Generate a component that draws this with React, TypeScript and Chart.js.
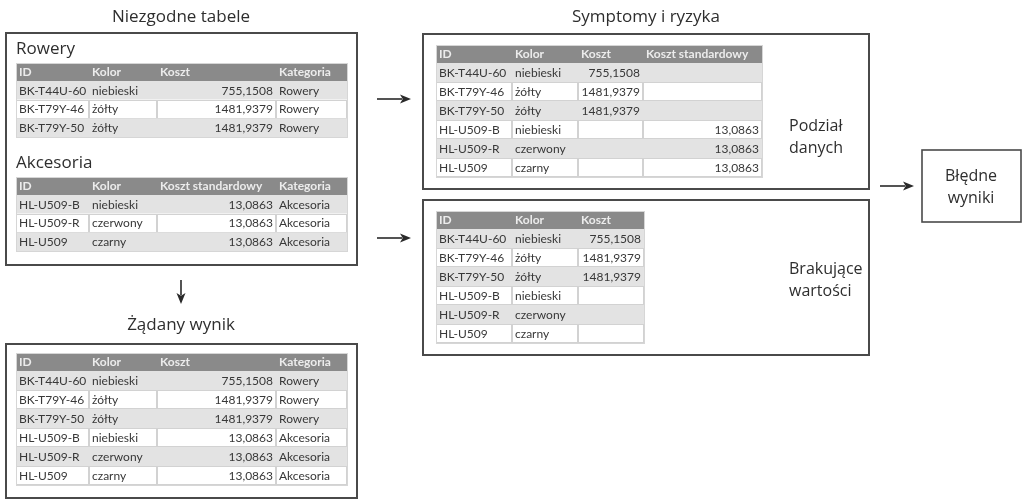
import React, { useEffect, useRef } from "react";
import { Chart, registerables } from "chart.js";

Chart.register(...registerables);

// ---------- data ----------
const titleLeft = "Niezgodne tabele";
const titleRight = "Symptomy i ryzyka";
const titleResult = "Żądany wynik";
const labelBikes = "Rowery";
const labelAccessories = "Akcesoria";
const labelSplit = ["Podział", "danych"];
const labelMissing = ["Brakujące", "wartości"];
const labelWrong = ["Błędne", "wyniki"];

const colsBikes = ["ID", "Kolor", "Koszt", "Kategoria"];
const rowsBikes = [
  ["BK-T44U-60", "niebieski", "755,1508", "Rowery"],
  ["BK-T79Y-46", "żółty", "1481,9379", "Rowery"],
  ["BK-T79Y-50", "żółty", "1481,9379", "Rowery"],
];
const colsAccessories = ["ID", "Kolor", "Koszt standardowy", "Kategoria"];
const rowsAccessories = [
  ["HL-U509-B", "niebieski", "13,0863", "Akcesoria"],
  ["HL-U509-R", "czerwony", "13,0863", "Akcesoria"],
  ["HL-U509", "czarny", "13,0863", "Akcesoria"],
];
const colsResult = ["ID", "Kolor", "Koszt", "Kategoria"];
const rowsResult = [
  ["BK-T44U-60", "niebieski", "755,1508", "Rowery"],
  ["BK-T79Y-46", "żółty", "1481,9379", "Rowery"],
  ["BK-T79Y-50", "żółty", "1481,9379", "Rowery"],
  ["HL-U509-B", "niebieski", "13,0863", "Akcesoria"],
  ["HL-U509-R", "czerwony", "13,0863", "Akcesoria"],
  ["HL-U509", "czarny", "13,0863", "Akcesoria"],
];
const colsSplit = ["ID", "Kolor", "Koszt", "Koszt standardowy"];
const rowsSplit = [
  ["BK-T44U-60", "niebieski", "755,1508", ""],
  ["BK-T79Y-46", "żółty", "1481,9379", ""],
  ["BK-T79Y-50", "żółty", "1481,9379", ""],
  ["HL-U509-B", "niebieski", "", "13,0863"],
  ["HL-U509-R", "czerwony", "", "13,0863"],
  ["HL-U509", "czarny", "", "13,0863"],
];
const colsMissing = ["ID", "Kolor", "Koszt"];
const rowsMissing = [
  ["BK-T44U-60", "niebieski", "755,1508"],
  ["BK-T79Y-46", "żółty", "1481,9379"],
  ["BK-T79Y-50", "żółty", "1481,9379"],
  ["HL-U509-B", "niebieski", ""],
  ["HL-U509-R", "czerwony", ""],
  ["HL-U509", "czarny", ""],
];

// ---------- layout (diagram units = page pixels) ----------
const W = 1023;
const H = 499;

type Table = {
  colX: number[];
  y0: number;
  headH: number;
  rowH: number;
  cols: string[];
  rows: string[][];
  align: string[];
};

const tables: Table[] = [
  { colX: [16, 89, 157, 276, 347], y0: 63, headH: 18, rowH: 18.7, cols: colsBikes, rows: rowsBikes, align: ["l", "l", "r", "l"] },
  { colX: [16, 89, 157, 276, 347], y0: 177, headH: 18, rowH: 18.7, cols: colsAccessories, rows: rowsAccessories, align: ["l", "l", "r", "l"] },
  { colX: [16, 89, 157, 276, 347], y0: 353, headH: 18, rowH: 19, cols: colsResult, rows: rowsResult, align: ["l", "l", "r", "l"] },
  { colX: [436, 512, 578, 643, 762], y0: 45, headH: 18, rowH: 19, cols: colsSplit, rows: rowsSplit, align: ["l", "l", "r", "r"] },
  { colX: [436, 512, 578, 644], y0: 211, headH: 18, rowH: 19, cols: colsMissing, rows: rowsMissing, align: ["l", "l", "r"] },
];

const App: React.FC = () => {
  const ref = useRef<HTMLCanvasElement>(null);

  useEffect(() => {
    document.body.style.margin = "0";
    const canvas = ref.current;
    if (!canvas) return;

    const diagram = {
      id: "diagram",
      beforeDraw(chart: any) {
        const c = chart.ctx as CanvasRenderingContext2D;
        c.save();
        c.fillStyle = "#ffffff";
        c.fillRect(0, 0, chart.width, chart.height);
        c.restore();
      },
      afterDraw(chart: any) {
        const c = chart.ctx as CanvasRenderingContext2D;
        const sx = chart.scales.x;
        const sy = chart.scales.y;
        const X = (v: number) => sx.getPixelForValue(v);
        const Y = (v: number) => sy.getPixelForValue(v);

        const rect = (x1: number, y1: number, x2: number, y2: number, stroke: string, lw: number) => {
          c.save();
          c.strokeStyle = stroke;
          c.lineWidth = lw;
          c.strokeRect(X(x1), Y(y1), X(x2) - X(x1), Y(y2) - Y(y1));
          c.restore();
        };
        const text = (s: string, x: number, y: number, font: string, color: string, align: CanvasTextAlign) => {
          c.save();
          c.font = font;
          c.fillStyle = color;
          c.textAlign = align;
          c.textBaseline = "middle";
          c.fillText(s, X(x), Y(y));
          c.restore();
        };
        const arrow = (x1: number, y1: number, x2: number, y2: number) => {
          const ax1 = X(x1), ay1 = Y(y1), ax2 = X(x2), ay2 = Y(y2);
          const ang = Math.atan2(ay2 - ay1, ax2 - ax1);
          const hl = 11, hw = 4.5;
          c.save();
          c.strokeStyle = "#2a2a2a";
          c.fillStyle = "#2a2a2a";
          c.lineWidth = 1.6;
          c.beginPath();
          c.moveTo(ax1, ay1);
          c.lineTo(ax2 - Math.cos(ang) * hl * 0.8, ay2 - Math.sin(ang) * hl * 0.8);
          c.stroke();
          c.beginPath();
          c.moveTo(ax2, ay2);
          c.lineTo(ax2 - Math.cos(ang) * hl - Math.sin(ang) * hw, ay2 - Math.sin(ang) * hl + Math.cos(ang) * hw);
          c.lineTo(ax2 - Math.cos(ang) * hl * 0.75, ay2 - Math.sin(ang) * hl * 0.75);
          c.lineTo(ax2 - Math.cos(ang) * hl + Math.sin(ang) * hw, ay2 - Math.sin(ang) * hl - Math.cos(ang) * hw);
          c.closePath();
          c.fill();
          c.restore();
        };

        const cellFont = "12px Lato, 'Open Sans', sans-serif";
        const headFont = "bold 12px Lato, 'Open Sans', sans-serif";
        const drawTable = (t: Table) => {
          const xs = t.colX;
          const left = xs[0];
          const right = xs[xs.length - 1];
          // header
          c.save();
          c.fillStyle = "#8a8a8a";
          c.fillRect(X(left), Y(t.y0), X(right) - X(left), Y(t.y0 + t.headH) - Y(t.y0));
          c.restore();
          t.cols.forEach((h, i) => {
            text(h, xs[i] + 3, t.y0 + t.headH / 2 + 0.5, headFont, "#ececec", "left");
          });
          // rows
          t.rows.forEach((r, ri) => {
            const ya = t.y0 + t.headH + ri * t.rowH;
            const yb = ya + t.rowH;
            const gray = ri % 2 === 0;
            c.save();
            c.fillStyle = gray ? "#e3e3e3" : "#ffffff";
            c.fillRect(X(left), Y(ya), X(right) - X(left), Y(yb) - Y(ya));
            if (!gray) {
              c.strokeStyle = "#d2d2d2";
              c.lineWidth = 1;
              for (let i = 0; i < xs.length - 1; i++) {
                c.strokeRect(Math.round(X(xs[i])) + 0.5, Math.round(Y(ya)) + 0.5, Math.round(X(xs[i + 1]) - X(xs[i])) - 1, Math.round(Y(yb) - Y(ya)) - 1);
              }
            } else {
              c.strokeStyle = "#ffffff";
              c.lineWidth = 1;
              c.beginPath();
              c.moveTo(X(left), Math.round(Y(yb)) + 0.5);
              c.lineTo(X(right), Math.round(Y(yb)) + 0.5);
              c.stroke();
            }
            c.restore();
            r.forEach((s, ci) => {
              if (!s) return;
              if (t.align[ci] === "r") {
                text(s, xs[ci + 1] - 3, (ya + yb) / 2 + 0.5, cellFont, "#383838", "right");
              } else {
                text(s, xs[ci] + 3, (ya + yb) / 2 + 0.5, cellFont, "#383838", "left");
              }
            });
          });
          // outer frame
          c.save();
          c.strokeStyle = "#d6d6d6";
          c.lineWidth = 1;
          const yEnd = t.y0 + t.headH + t.rows.length * t.rowH;
          c.strokeRect(Math.round(X(left)) + 0.5, Math.round(Y(t.y0)) + 0.5, Math.round(X(right) - X(left)), Math.round(Y(yEnd) - Y(t.y0)));
          c.restore();
        };

        const titleFont = "17px 'Open Sans', 'Noto Sans', sans-serif";
        const sideFont = "16px 'Open Sans', 'Noto Sans', sans-serif";

        // titles
        text(titleLeft, 181, 17, titleFont, "#2e2e2e", "center");
        text(titleRight, 646, 17, titleFont, "#2e2e2e", "center");
        text(titleResult, 181, 325, titleFont, "#2e2e2e", "center");

        // boxes
        rect(6, 33, 357, 265, "#4a4a4a", 2);
        rect(6, 344, 357, 498, "#4a4a4a", 2);
        rect(423, 34, 869, 189, "#4a4a4a", 2);
        rect(423, 200, 869, 355, "#4a4a4a", 2);
        rect(922, 150, 1021, 222, "#4a4a4a", 1.6);

        // section labels
        text(labelBikes, 16, 49, titleFont, "#2e2e2e", "left");
        text(labelAccessories, 16, 163, titleFont, "#2e2e2e", "left");
        text(labelSplit[0], 789, 126, sideFont, "#2e2e2e", "left");
        text(labelSplit[1], 789, 148, sideFont, "#2e2e2e", "left");
        text(labelMissing[0], 789, 269, sideFont, "#2e2e2e", "left");
        text(labelMissing[1], 789, 291, sideFont, "#2e2e2e", "left");
        text(labelWrong[0], 971, 176, sideFont, "#2e2e2e", "center");
        text(labelWrong[1], 971, 198, sideFont, "#2e2e2e", "center");

        tables.forEach(drawTable);

        // arrows
        arrow(377, 99, 411, 99);
        arrow(377, 238, 411, 238);
        arrow(880, 186, 914, 186);
        arrow(181, 280, 181, 304);
      },
    };

    const chart = new Chart(canvas, {
      type: "scatter",
      data: { datasets: [{ data: [], pointRadius: 0 }] },
      options: {
        animation: false,
        responsive: false,
        layout: { padding: 0 },
        plugins: { legend: { display: false }, tooltip: { enabled: false } },
        scales: {
          x: { type: "linear", min: 0, max: W, display: false },
          y: { type: "linear", min: 0, max: H, reverse: true, display: false },
        },
      },
      plugins: [diagram],
    });
    return () => chart.destroy();
  }, []);

  return (
    <div style={{ width: W, height: H }}>
      <canvas ref={ref} width={W} height={H} style={{ display: "block", width: W, height: H }} />
    </div>
  );
};

export default App;
